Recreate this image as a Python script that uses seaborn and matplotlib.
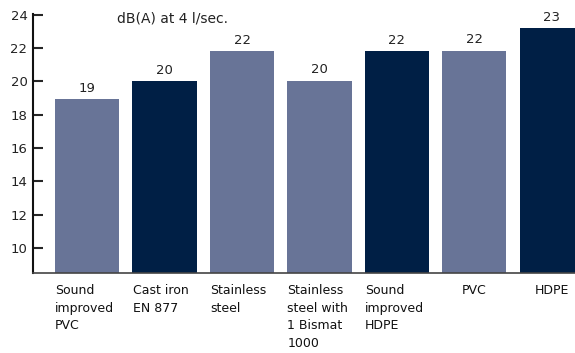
import matplotlib
matplotlib.use("Agg")
import matplotlib.pyplot as plt
import matplotlib.transforms as mtransforms
import seaborn as sns
import pandas as pd

# data
materials = ["Sound\nimproved\nPVC", "Cast iron\nEN 877", "Stainless\nsteel",
             "Stainless\nsteel with\n1 Bismat\n1000", "Sound\nimproved\nHDPE", "PVC", "HDPE"]
noise_db = [18.95, 20.0, 21.8, 20.05, 21.8, 21.85, 23.2]
value_labels = ["19", "20", "22", "20", "22", "22", "23"]
bar_colors = ["#687497", "#001f45", "#687497", "#687497", "#001f45", "#687497", "#001f45"]
y_ticks = [10, 12, 14, 16, 18, 20, 22, 24]

df = pd.DataFrame({"material": materials, "db": noise_db})

sns.set_style("white")
plt.rcParams['font.family'] = ['DejaVu Sans']

fig = plt.figure(figsize=(5.75, 3.53), dpi=100)
ax = fig.add_axes([0.0574, 0.2266, 0.9426, 0.7337])

sns.barplot(data=df, x="material", y="db", hue="material", palette=bar_colors,
            saturation=1, width=0.83, legend=False, linewidth=0, ax=ax)

ax.set_ylim(8.5, 24.05)
ax.set_xlim(-0.7, 6.3)
ax.set_yticks(y_ticks)
ax.set_xlabel("")
ax.set_ylabel("")
ax.tick_params(axis="y", direction="in", length=7, width=1.5, labelsize=9.5,
               labelcolor="#222222", pad=4, left=True)
ax.tick_params(axis="x", length=0, pad=8)

for side in ["top", "right"]:
    ax.spines[side].set_visible(False)
ax.spines["left"].set_linewidth(1.5)
ax.spines["left"].set_color("#111111")
ax.spines["bottom"].set_linewidth(1.2)
ax.spines["bottom"].set_color("#444444")

# x labels: multi-line ones start at the bar's left edge, single words centred
shift = mtransforms.ScaledTranslation(-0.32, 0, fig.dpi_scale_trans)
for lab in ax.get_xticklabels():
    lab.set_fontsize(9)
    lab.set_linespacing(1.45)
    lab.set_color("#111111")
    lab.set_va("top")
    if "\n" in lab.get_text():
        lab.set_ha("left")
        lab.set_transform(lab.get_transform() + shift)

for i, (v, txt) in enumerate(zip(noise_db, value_labels)):
    ax.annotate(txt, (i, v), xytext=(0, 3), textcoords="offset points",
                ha="center", va="bottom", fontsize=9.5, color="#222222")

ax.text(0.258, 1.008, "dB(A) at 4 l/sec.", transform=ax.transAxes,
        ha="center", va="top", fontsize=10, color="#222222")

fig.savefig("out.png", dpi=100)
